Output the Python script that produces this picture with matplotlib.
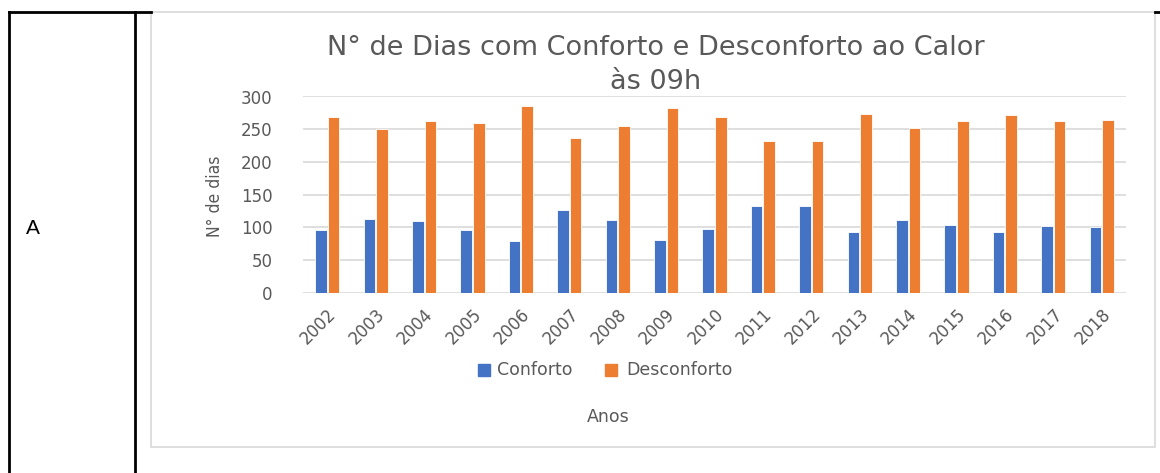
import matplotlib
matplotlib.use("Agg")
import matplotlib.pyplot as plt
from matplotlib.lines import Line2D
from matplotlib.patches import Rectangle
import numpy as np

years = ["2002", "2003", "2004", "2005", "2006", "2007", "2008", "2009", "2010",
         "2011", "2012", "2013", "2014", "2015", "2016", "2017", "2018"]
conforto = [95, 113, 109, 95, 79, 127, 111, 81, 97, 132, 132, 92, 111, 104, 92, 102, 100]
desconforto = [269, 250, 262, 259, 285, 236, 255, 282, 268, 232, 232, 273, 252, 262, 271, 262, 264]
yticks = [0, 50, 100, 150, 200, 250, 300]

title = "N° de Dias com Conforto e Desconforto ao Calor\nàs 09h"
ylabel = "N° de dias"
xlabel = "Anos"
series_names = ["Conforto", "Desconforto"]

W, H = 1160, 473
fig = plt.figure(figsize=(W / 100, H / 100), dpi=100)
fig.patch.set_facecolor("white")

gray = "#595959"
blue = "#4472C4"
orange = "#ED7D31"
font = ["DejaVu Sans"]

def fx(px):
    return px / W

def fy(py):
    return 1 - py / H

# table lines
for x in (9, 135):
    fig.add_artist(Line2D([fx(x), fx(x)], [fy(12), fy(473)], color="black", lw=2))
fig.add_artist(Line2D([fx(9), fx(151)], [fy(12), fy(12)], color="black", lw=2))
fig.add_artist(Line2D([fx(1155), fx(1160)], [fy(12), fy(12)], color="black", lw=2))
fig.text(fx(33), fy(228), "A", fontsize=15, color="black", ha="center", va="center",
         family=["Liberation Sans", "DejaVu Sans"])

# chart frame
fig.add_artist(Rectangle((fx(151), fy(447)), fx(1155) - fx(151), fy(12) - fy(447),
                         fill=False, edgecolor="#D9D9D9", lw=1.2))

ax = fig.add_axes([fx(303), fy(292.5), fx(1126) - fx(303), fy(96.5) - fy(292.5)])
x = np.arange(len(years))
bw = 0.24
ax.bar(x - bw / 2 - 0.01, conforto, bw, color=blue, edgecolor="white", linewidth=0.6, zorder=3)
ax.bar(x + bw / 2 + 0.01, desconforto, bw, color=orange, edgecolor="white", linewidth=0.6, zorder=3)
ax.set_xlim(-0.5, len(years) - 0.5)
ax.set_ylim(0, 300)
ax.set_yticks(yticks)
ax.yaxis.grid(True, color="#D9D9D9", lw=1.2, zorder=0)
ax.set_axisbelow(True)
for s in ax.spines.values():
    s.set_visible(False)
ax.tick_params(axis="both", length=0, colors=gray, labelsize=12)
ax.set_yticklabels([str(v) for v in yticks], family=font)
ax.tick_params(axis="y", pad=22)
ax.set_xticks(x)
ax.set_xticklabels(years, rotation=45, ha="right", va="top", rotation_mode="anchor",
                   family=font)
ax.tick_params(axis="x", pad=9)

fig.text(fx(656), fy(65), title, fontsize=19.5, color=gray, ha="center", va="center",
         family=font, linespacing=1.4)
fig.text(fx(215), fy(196), ylabel, fontsize=12.5, color=gray, ha="center", va="center",
         rotation=90, family=["DejaVu Sans"], fontstretch="condensed")
fig.text(fx(608), fy(417), xlabel, fontsize=12.5, color=gray, ha="center", va="center", family=font)

# legend
for sq, tx, name, col in ((478, 497, series_names[0], blue), (605, 626, series_names[1], orange)):
    fig.add_artist(Rectangle((fx(sq), fy(376)), fx(12), fy(364) - fy(376), color=col))
    fig.text(fx(tx), fy(370), name, fontsize=12.5, color=gray, ha="left", va="center", family=font)

fig.savefig("out.png", dpi=100, facecolor="white")
